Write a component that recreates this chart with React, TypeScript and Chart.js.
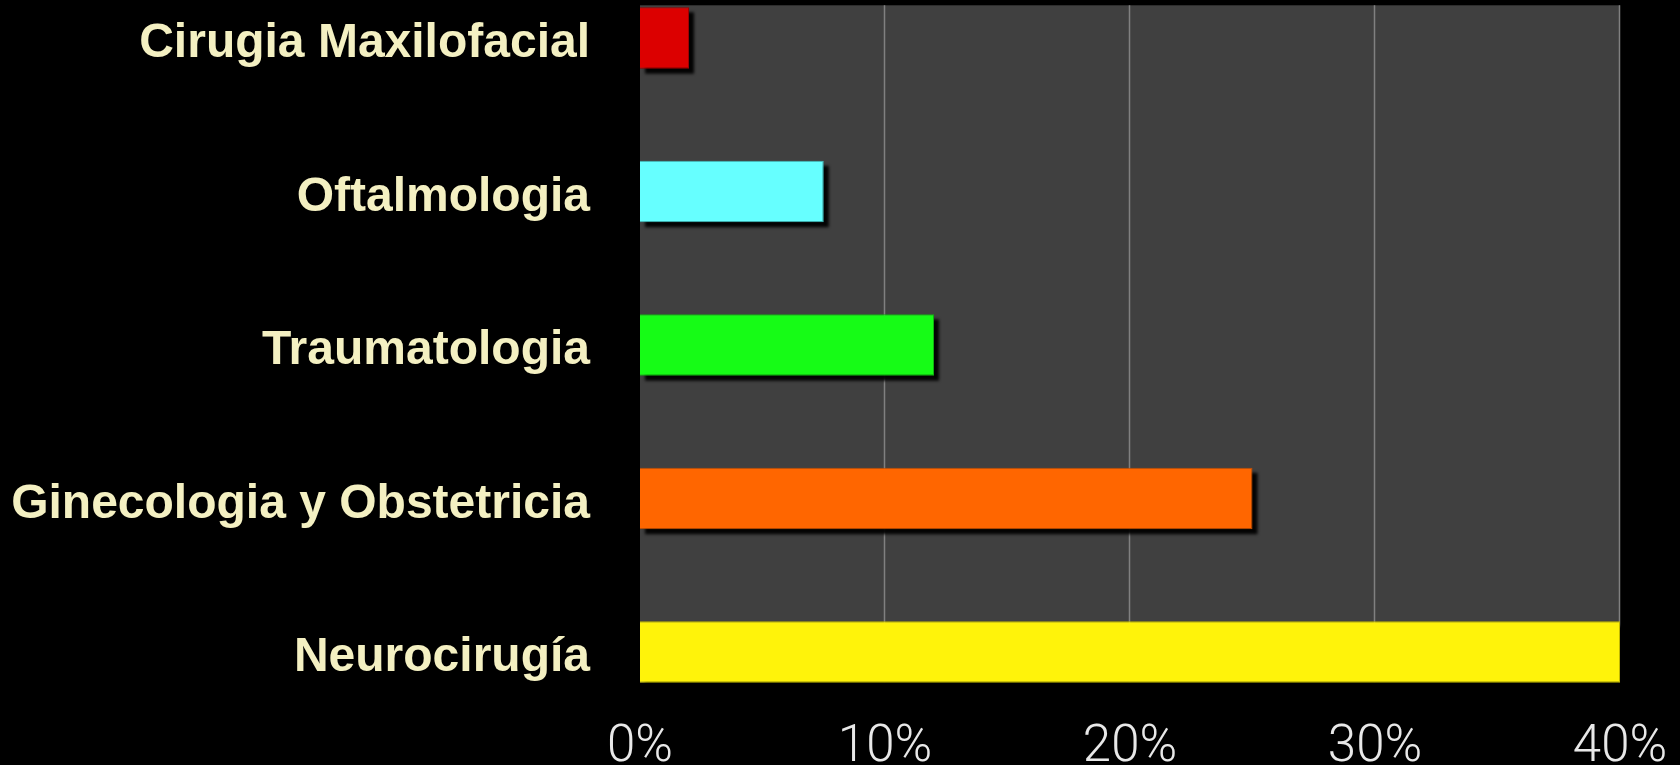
import React, { useEffect, useRef } from "react";
import { Chart, registerables } from "chart.js";

Chart.register(...registerables);

const categories = [
  "Cirugia Maxilofacial",
  "Oftalmologia",
  "Traumatologia",
  "Ginecologia y Obstetricia",
  "Neurocirugía",
];
const values = [2, 7.5, 12, 25, 40];
const barColors = ["#dc0000", "#66ffff", "#16fc16", "#ff6600", "#fff30a"];
const barBorders = ["#a00000", "#3fbfbf", "#10b010", "#c04d00", "#c0b600"];
const xTicks = [0, 10, 20, 30, 40];

const bgPlugin = {
  id: "slideBg",
  beforeDraw(chart: any) {
    const ctx = chart.ctx;
    ctx.save();
    ctx.fillStyle = "#000000";
    ctx.fillRect(0, 0, chart.width, chart.height);
    ctx.restore();
  },
  beforeDatasetsDraw(chart: any) {
    const ctx = chart.ctx;
    const meta = chart.getDatasetMeta(0);
    const first = meta.data[0];
    const last = meta.data[meta.data.length - 1];
    const top = first.y - first.height / 2 - 2;
    const bottom = last.y + last.height / 2;
    const { left, right } = chart.chartArea;
    ctx.save();
    ctx.fillStyle = "#404040";
    ctx.fillRect(left, top, right - left, bottom - top);
    const xs = chart.scales.x;
    ctx.strokeStyle = "#808080";
    ctx.lineWidth = 1.5;
    xTicks.forEach((t) => {
      if (t === 0) return;
      const px = Math.round(xs.getPixelForValue(t)) - 0.5;
      ctx.beginPath();
      ctx.moveTo(px, top);
      ctx.lineTo(px, bottom);
      ctx.stroke();
    });
    // drop shadows of the bars
    ctx.fillStyle = "rgba(0,0,0,0.95)";
    ctx.filter = "blur(1.5px)";
    meta.data.forEach((el: any) => {
      const p = el.getProps(["x", "y", "base", "height"], true);
      const x0 = Math.min(p.base, p.x);
      const w = Math.abs(p.x - p.base);
      ctx.fillRect(x0 + 5, p.y - p.height / 2 + 5, w, p.height);
    });
    ctx.restore();
  },
};

export default function App() {
  const ref = useRef<HTMLCanvasElement | null>(null);

  useEffect(() => {
    document.body.style.margin = "0";
    document.body.style.background = "#000";
    const canvas = ref.current;
    if (!canvas) return;
    const chart = new Chart(canvas, {
      type: "bar",
      data: {
        labels: categories,
        datasets: [
          {
            data: values,
            backgroundColor: barColors,
            borderColor: barBorders,
            borderWidth: 1,
            barPercentage: 1,
            categoryPercentage: 0.4,
            clip: false as any,
          },
        ],
      },
      options: {
        indexAxis: "y",
        animation: false,
        responsive: false,
        layout: { padding: { top: 38, right: 60, bottom: 0, left: 0 } },
        plugins: {
          legend: { display: false },
          tooltip: { enabled: false },
        },
        scales: {
          y: {
            type: "category",
            offset: false,
            grid: { display: false },
            border: { display: false },
            ticks: {
              padding: 42,
              labelOffset: 6,
              color: "#f4f0c2",
              font: { family: "'Liberation Sans', Arial, sans-serif", size: 48, weight: "bold" },
            },
            afterFit(scale: any) {
              scale.width = 640;
              scale.paddingTop = 0;
              scale.paddingBottom = 0;
            },
          },
          x: {
            type: "linear",
            min: 0,
            max: 40,
            grid: { display: false },
            border: { display: false },
            ticks: {
              stepSize: 10,
              padding: 58,
              color: "#e8e8e8",
              font: { family: "Roboto, 'Liberation Sans', sans-serif", size: 51, weight: "300" as any },
              callback: (v: any) => `${v}%`,
            },
            afterFit(scale: any) {
              scale.height = 113;
              scale.paddingLeft = 0;
              scale.paddingRight = 0;
            },
          },
        },
      },
      plugins: [bgPlugin],
    });
    return () => chart.destroy();
  }, []);

  return (
    <div style={{ width: 1680, height: 765, background: "#000" }}>
      <canvas ref={ref} width={1680} height={765} style={{ display: "block" }} />
    </div>
  );
}
